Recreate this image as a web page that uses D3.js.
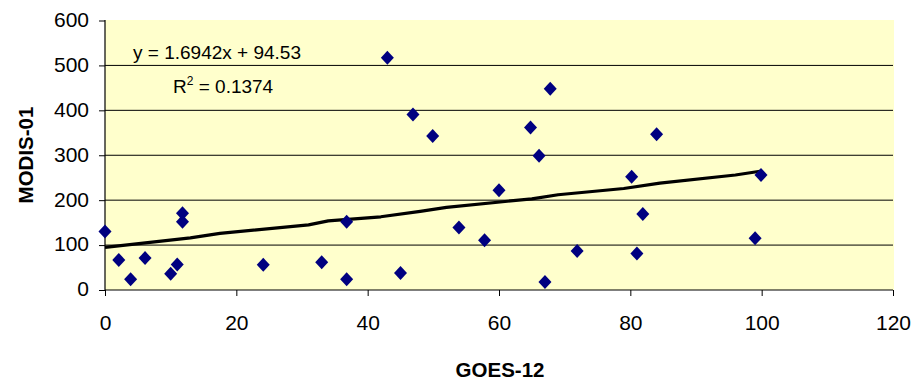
<!DOCTYPE html>
<html lang="en">
<head>
  <meta charset="utf-8">
  <title>MODIS-01 vs GOES-12</title>
  <script src="https://d3js.org/d3.v7.min.js"></script>
  <style>
    body {
      margin: 0;
      background: #fff;
      font-family: Arial, "Liberation Sans", sans-serif;
    }
    .tick-label { font-size: 21px; fill: #000; }
    .axis-title { font-size: 20.5px; font-weight: bold; fill: #000; }
    .eq { font-size: 19px; fill: #000; }
  </style>
</head>
<body>
  <div id="chart"></div>
  <script>
    // scatter points
    const goes = [0, 2.1, 3.9, 6.1, 10, 11, 11.8, 11.8, 24.1, 33, 36.8, 36.8,
      43, 45, 46.9, 49.9, 53.9, 57.8, 60, 64.8, 66.1, 67.8, 67, 71.9,
      80.2, 81.9, 81, 84, 99.9, 99];
    const modis = [130, 67, 24, 71, 36, 57, 171, 152, 56, 62, 152, 24,
      517, 38, 391, 343, 139, 111, 222, 362, 299, 448, 18, 87,
      252, 169, 81, 347, 256, 115];

    // trend line as drawn (slightly kinked polyline)
    const trendX = [0, 13, 17.5, 31, 34, 42, 48, 52, 65, 69, 79, 84.5, 96, 100];
    const trendY = [95, 116, 126, 145, 154, 163, 175, 184, 203, 212, 226, 238, 256, 265];

    const xTicks = [0, 20, 40, 60, 80, 100, 120];
    const yTicks = [0, 100, 200, 300, 400, 500, 600];
    const gridVals = [100, 200, 300, 400, 500];

    const width = 912, height = 382;
    const plotLeft = 105, plotRight = 893, plotTop = 20.5, plotBottom = 290;

    const svg = d3.select("#chart").append("svg")
      .attr("width", width)
      .attr("height", height);

    const x = d3.scaleLinear().domain([0, 120]).range([plotLeft, plotRight]);
    const y = d3.scaleLinear().domain([0, 600]).range([plotBottom, plotTop]);

    // plot background
    svg.append("rect")
      .attr("x", plotLeft)
      .attr("y", 20)
      .attr("width", plotRight - plotLeft + 1)
      .attr("height", plotBottom - 20)
      .attr("fill", "#FFFFCC");

    // gridlines
    svg.selectAll("line.grid")
      .data(gridVals)
      .enter().append("line")
      .attr("class", "grid")
      .attr("x1", plotLeft).attr("x2", plotRight)
      .attr("y1", d => y(d)).attr("y2", d => y(d))
      .attr("stroke", "#000")
      .attr("stroke-width", 1);

    // axes
    const xAxis = d3.axisBottom(x).tickValues(xTicks).tickSize(6).tickPadding(19);
    const yAxis = d3.axisLeft(y).tickValues(yTicks).tickSize(6).tickPadding(10);

    const gx = svg.append("g")
      .attr("transform", `translate(0,${plotBottom})`)
      .call(xAxis);
    const gy = svg.append("g")
      .attr("transform", `translate(${plotLeft},0)`)
      .call(yAxis);

    [gx, gy].forEach(g => {
      g.select(".domain").attr("stroke", "#000").attr("stroke-width", 1.2);
      g.selectAll(".tick line").attr("stroke", "#000");
      g.selectAll(".tick text")
        .attr("class", "tick-label")
        .attr("font-family", "Arial, 'Liberation Sans', sans-serif")
        .attr("font-size", null);
    });
    gy.selectAll(".tick text").attr("dy", "0.28em");
    gx.selectAll(".tick text").attr("dy", "0.71em");
    gy.select(".domain").attr("d", `M0,${plotBottom}V20`);
    gx.select(".domain").attr("d", `M${plotLeft},0H${plotRight}`);

    // trend line
    const line = d3.line()
      .x((d, i) => x(trendX[i]))
      .y(d => y(d));
    svg.append("path")
      .datum(trendY)
      .attr("d", line)
      .attr("fill", "none")
      .attr("stroke", "#000")
      .attr("stroke-width", 3.2)
      .attr("stroke-linejoin", "round");

    // diamond markers
    svg.selectAll("path.pt")
      .data(goes.map((g, i) => [g, modis[i]]))
      .enter().append("path")
      .attr("class", "pt")
      .attr("d", "M0,-7L6.5,0L0,7L-6.5,0Z")
      .attr("transform", d => `translate(${x(d[0])},${y(d[1])})`)
      .attr("fill", "#000080");

    // equation
    svg.append("text")
      .attr("class", "eq")
      .attr("x", 133).attr("y", 59)
      .text("y = 1.6942x + 94.53");
    const r2 = svg.append("text")
      .attr("class", "eq")
      .attr("x", 173).attr("y", 93);
    r2.append("tspan").text("R");
    r2.append("tspan").attr("font-size", "12px").attr("dy", -8).text("2");
    r2.append("tspan").attr("dy", 8).text(" = 0.1374");

    // axis titles
    svg.append("text")
      .attr("class", "axis-title")
      .attr("x", 500).attr("y", 377)
      .attr("text-anchor", "middle")
      .text("GOES-12");
    svg.append("text")
      .attr("class", "axis-title")
      .attr("transform", "translate(33,155) rotate(-90)")
      .attr("text-anchor", "middle")
      .text("MODIS-01");
  </script>
</body>
</html>
